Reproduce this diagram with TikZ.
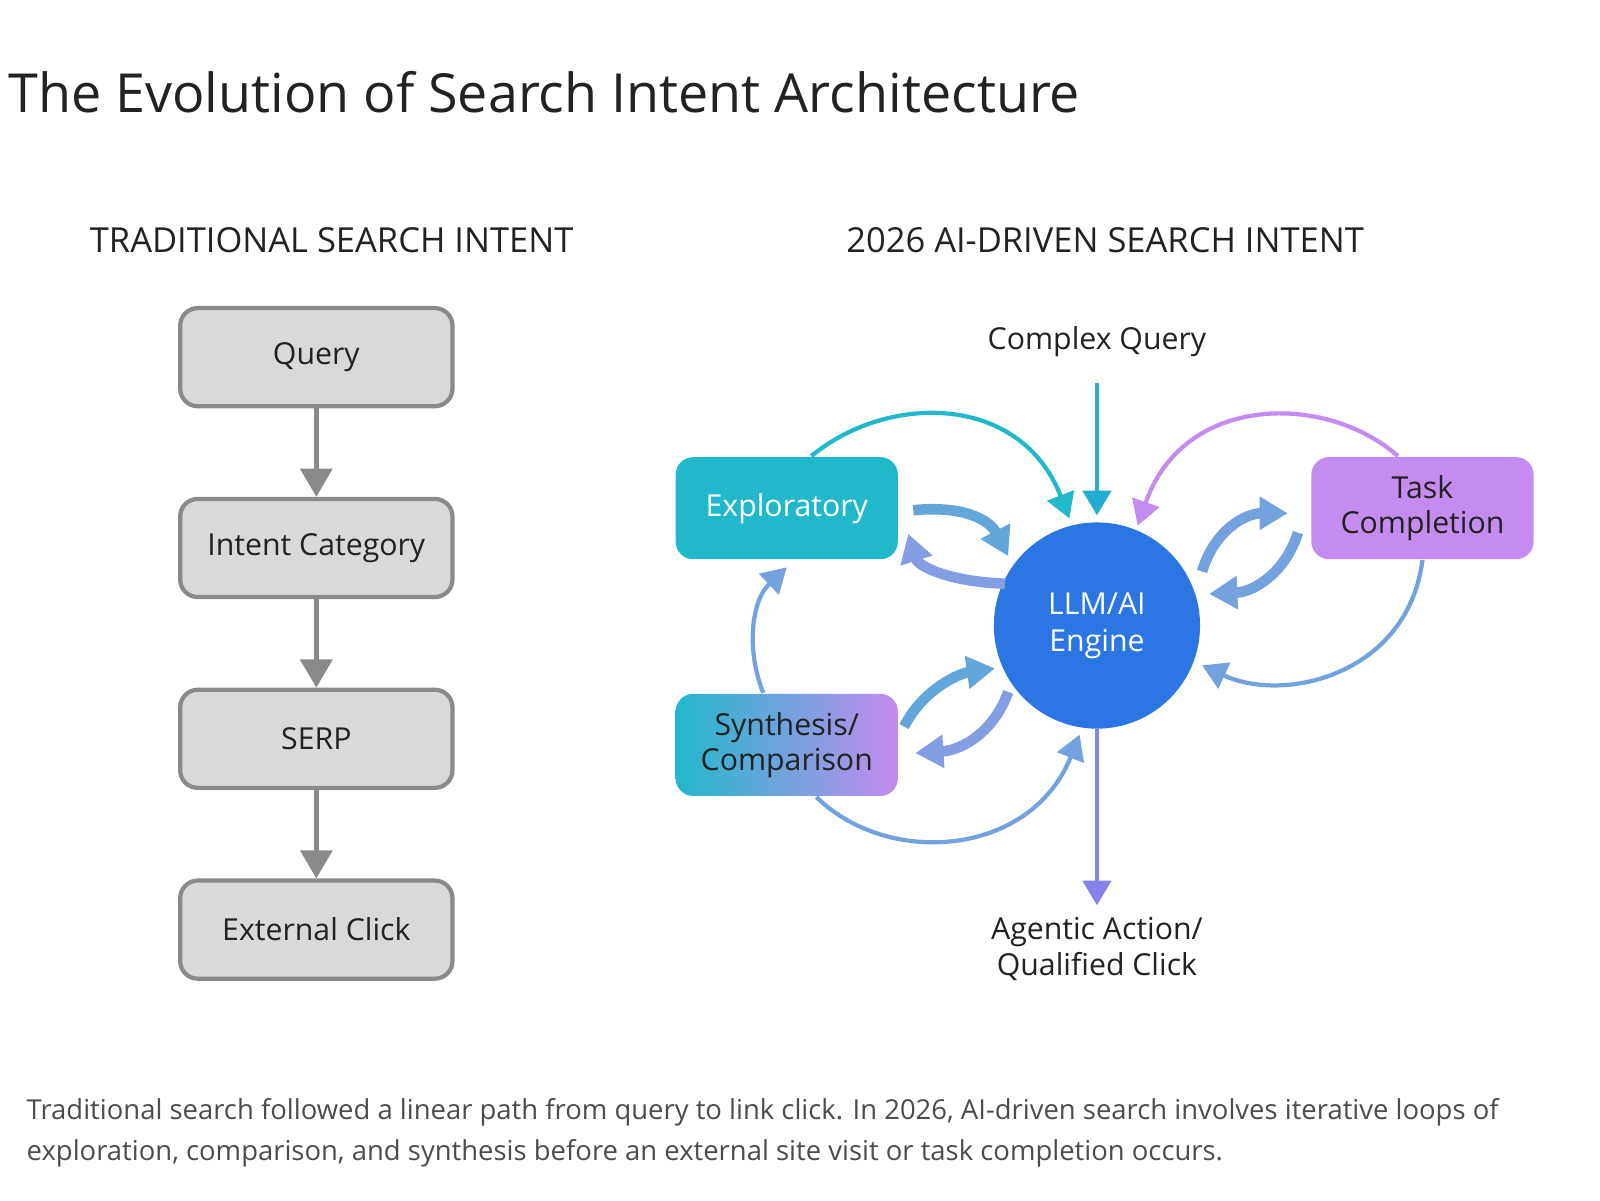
\documentclass[tikz,border=0pt]{standalone}
\usepackage{fontspec}
\setmainfont{Open Sans}
\usetikzlibrary{arrows.meta,positioning}
\definecolor{boxgray}{HTML}{D9D9D9}
\definecolor{linegray}{HTML}{8A8A8A}
\definecolor{aiteal}{HTML}{22B8CC}
\definecolor{aipurple}{HTML}{C48CF0}
\definecolor{aiblue}{HTML}{2B76E2}
\definecolor{txt}{HTML}{222222}

\begin{document}
\begin{tikzpicture}[x=0.0102cm,y=-0.0102cm,
    oldbox/.style={draw=linegray, line width=1.2pt, fill=boxgray, rounded corners=5pt,
        minimum width=2.72cm, minimum height=0.98cm, font=\fontsize{8.6}{10}\selectfont, text=txt},
    oldarrow/.style={-{Triangle[length=8pt,width=9pt]}, linegray, line width=1.3pt},
    newbox/.style={rounded corners=5pt, minimum width=2.22cm, minimum height=1.02cm,
        align=center, font=\fontsize{8.6}{10}\selectfont},
    loop/.style={-{Triangle[length=7pt,width=8pt]}, line width=1.2pt},
    swap/.style={-{Triangle[length=8pt,width=9pt]}, line width=3pt},
    label/.style={font=\fontsize{8.6}{10}\selectfont, text=txt, align=center},
    head/.style={font=\fontsize{9.8}{12}\selectfont, text=txt},
]
\useasboundingbox (0,0) rectangle (1568,1176);

% title and caption
\node[anchor=west, font=\fontsize{15.3}{18}\selectfont, text=txt] (title) at (-4,90) {The Evolution of Search Intent Architecture};
\node[anchor=north west, align=left, font=\fontsize{7.8}{11.6}\selectfont, text=black!70] (caption) at (14,1064)
    {Traditional search followed a linear path from query to link click. In 2026, AI-driven search involves iterative loops of\\
     exploration, comparison, and synthesis before an external site visit or task completion occurs.};

% traditional side
\node[head] (oldhead) at (325,235) {TRADITIONAL SEARCH INTENT};
\node[oldbox] (query) at (310,350) {Query};
\node[oldbox] (intent) at (310,537) {Intent Category};
\node[oldbox] (serp) at (310,724) {SERP};
\node[oldbox] (click) at (310,911) {External Click};
\draw[oldarrow] (query) -- (intent);
\draw[oldarrow] (intent) -- (serp);
\draw[oldarrow] (serp) -- (click);

% AI-driven side
\node[head] (newhead) at (1083,235) {2026 AI-DRIVEN SEARCH INTENT};
\node[circle, fill=aiblue, minimum size=2.06cm, text=white, align=center,
      font=\fontsize{8.6}{10.5}\selectfont] (engine) at (1075,613) {LLM/AI\\Engine};
\node[newbox, fill=aiteal, text=white] (explore) at (771,498) {Exploratory};
\node[newbox, fill=aipurple, text=txt] (task) at (1394,498) {Task\\Completion};
\node[newbox, left color=aiteal, right color=aipurple, text=txt] (synth) at (771,730) {Synthesis/\\Comparison};
\node[label] (complex) at (1075,335) {Complex Query};
\node[label] (agentic) at (1075,930) {Agentic Action/\\Qualified Click};
\coordinate (cqend) at (1075,375);
\coordinate (inA) at (1048,508);
\coordinate (inB) at (1115,515);
\coordinate (inC) at (1178,652);
\coordinate (inD) at (1058,720);

\draw[loop, aiteal!80!aiblue] (cqend) -- (engine.north |- 0,505);
\draw[loop, aiblue!40!aipurple] (engine.south) -- (agentic.north);

% outer loops
\draw[loop, aiteal] (795,447) .. controls (870,385) and (1000,385) .. (inA);
\draw[loop, aipurple] (1370,447) .. controls (1300,385) and (1160,385) .. (inB);
\draw[loop, aipurple!50!aiteal] (task.south) .. controls (1380,660) and (1260,690) .. (inC);
\draw[loop, aiteal!50!aipurple] (800,781) .. controls (870,850) and (1010,840) .. (inD);
\draw[loop, aipurple!50!aiteal] (748,679) .. controls (732,640) and (735,590) .. (explore.south |- 0,556);

% swap arrows
\draw[swap, aiteal!60!aipurple] (895,500) .. controls (945,495) and (970,510) .. (988,545);
\draw[swap, aipurple!60!aiteal] (985,572) .. controls (930,570) and (900,555) .. (890,523);
\draw[swap, aipurple!50!aiteal] (1178,560) .. controls (1190,520) and (1220,503) .. (1262,503);
\draw[swap, aiteal!50!aipurple] (1272,522) .. controls (1260,560) and (1230,580) .. (1185,582);
\draw[swap, aiteal!60!aipurple] (886,712) .. controls (905,675) and (940,660) .. (975,655);
\draw[swap, aipurple!60!aiteal] (988,678) .. controls (975,715) and (945,735) .. (897,738);
\end{tikzpicture}
\end{document}
